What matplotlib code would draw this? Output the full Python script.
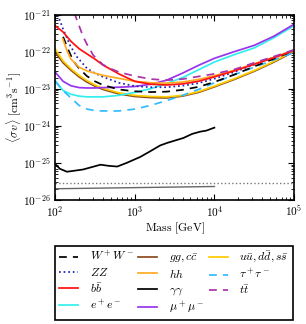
import numpy as np
import matplotlib
matplotlib.use('Agg')
import matplotlib.pyplot as plt
from matplotlib.ticker import FuncFormatter, LogLocator

plt.rcParams['mathtext.fontset'] = 'cm'
plt.rcParams['font.family'] = ['DejaVu Serif']

# masses in GeV, <sigma v> given as log10 of cm^3 s^-1
mass_grid = [100, 126, 158, 200, 251, 316, 398, 631, 1000, 1585, 2512, 3981,
             6310, 10000, 17780, 31620, 56230, 100000]

log_sv_bb = [-21.3, -21.47, -21.72, -21.92, -22.06, -22.2, -22.36, -22.6, -22.8, -22.88,
             -22.9, -22.87, -22.8, -22.68, -22.52, -22.34, -22.16, -21.97]
log_sv_gg = [-22.02, -22.3, -22.5, -22.68, -22.82, -22.93, -23.02, -23.14, -23.21, -23.24,
             -23.25, -23.2, -23.1, -22.95, -22.75, -22.53, -22.28, -22.0]
log_sv_uu = [-21.92, -22.25, -22.46, -22.64, -22.78, -22.9, -22.99, -23.11, -23.18, -23.21,
             -23.22, -23.18, -23.08, -22.93, -22.73, -22.51, -22.26, -21.98]
log_sv_ee = [-22.78, -23.05, -23.15, -23.2, -23.22, -23.22, -23.22, -23.18, -23.1, -23.0,
             -22.86, -22.7, -22.49, -22.28, -22.08, -21.9, -21.62, -21.3]
log_sv_mumu = [-22.55, -22.8, -22.92, -22.97, -22.98, -22.98, -22.97, -22.96, -22.94, -22.88,
               -22.77, -22.58, -22.37, -22.18, -22.0, -21.83, -21.58, -21.26]
log_sv_tautau = [-22.8, -23.05, -23.25, -23.45, -23.55, -23.59, -23.6, -23.6, -23.55, -23.45,
                 -23.32, -23.18, -23.02, -22.84, -22.62, -22.42, -22.22, -22.02]

mass_hh = [125, 141, 158, 200, 251, 316, 398, 631, 1000, 1585, 2512, 3981,
           6310, 10000, 17780, 31620, 56230, 100000]
log_sv_hh = [-21.66, -21.97, -22.2, -22.42, -22.52, -22.58, -22.64, -22.72, -22.8, -22.84,
             -22.85, -22.82, -22.75, -22.65, -22.5, -22.33, -22.15, -21.96]

mass_ww = [126, 148, 170, 200, 251, 316, 398, 631, 1000, 1585, 2512, 3981,
           6310, 10000, 17780, 31620, 56230, 100000]
log_sv_ww = [-21.6, -21.97, -22.26, -22.45, -22.66, -22.8, -22.9, -23.02, -23.07, -23.09,
             -23.08, -23.03, -22.95, -22.82, -22.62, -22.4, -22.19, -21.97]

mass_zz = [100, 110, 126, 155, 186, 251, 316, 398, 631, 1000, 1585, 2512, 3981,
           6310, 10000, 17780, 31620, 56230, 100000]
log_sv_zz = [-20.9, -21.05, -21.39, -21.84, -22.13, -22.45, -22.58, -22.68, -22.84, -22.93,
             -22.96, -22.96, -22.92, -22.85, -22.73, -22.55, -22.35, -22.15, -21.96]

mass_tt = [174, 200, 224, 251, 302, 398, 501, 631, 1000, 1585, 2512, 3981,
           6310, 10000, 17780, 31620, 56230, 100000]
log_sv_tt = [-20.95, -21.3, -21.58, -21.8, -22.1, -22.35, -22.46, -22.55, -22.66, -22.74,
             -22.77, -22.74, -22.67, -22.6, -22.48, -22.3, -22.13, -21.95]

mass_aa = [100, 115, 141, 224, 372, 468, 603, 794, 1175, 1585, 2089, 2570, 4074,
           5248, 6607, 7943, 10000]
log_sv_aa = [-25.03, -25.16, -25.24, -25.18, -25.05, -25.08, -25.1, -25.0, -24.84, -24.68,
             -24.53, -24.46, -24.33, -24.22, -24.16, -24.13, -24.05]

mass_relic = [100, 10000]
sv_relic = [2.0e-26, 2.3e-26]
sv_dotted = 2.8e-26

fig = plt.figure(figsize=(3.06, 3.24), dpi=100)
ax = fig.add_axes([0.18, 0.383, 0.781, 0.572])

lw = 1.25
dash = (0, (4.5, 3.5))
ax.plot(mass_grid, np.power(10.0, log_sv_gg), color='#8b4a1c', lw=lw, label=r'$gg, c\bar{c}$')
ax.plot(mass_grid, np.power(10.0, log_sv_uu), color='#ffcc00', lw=lw, label=r'$u\bar{u}, d\bar{d}, s\bar{s}$')
ax.plot(mass_grid, np.power(10.0, log_sv_ee), color='#33eeee', lw=lw, label=r'$e^+e^-$')
ax.plot(mass_grid, np.power(10.0, log_sv_tautau), color='#33bbff', lw=lw, ls=dash, label=r'$\tau^+\tau^-$')
ax.plot(mass_grid, np.power(10.0, log_sv_mumu), color='#9933ee', lw=lw, label=r'$\mu^+\mu^-$')
ax.plot(mass_ww, np.power(10.0, log_sv_ww), color='black', lw=lw, ls=dash, label=r'$W^+W^-$')
ax.plot(mass_zz, np.power(10.0, log_sv_zz), color='#2222bb', lw=lw, ls=':', label=r'$ZZ$')
ax.plot(mass_hh, np.power(10.0, log_sv_hh), color='#ffaa22', lw=lw, label=r'$hh$')
ax.plot(mass_grid, np.power(10.0, log_sv_bb), color='#ff1111', lw=lw, label=r'$b\bar{b}$')
ax.plot(mass_tt, np.power(10.0, log_sv_tt), color='#aa33aa', lw=lw, ls=dash, label=r'$t\bar{t}$')
ax.plot(mass_aa, np.power(10.0, log_sv_aa), color='black', lw=lw, label=r'$\gamma\gamma$')
ax.plot(mass_relic, sv_relic, color='#666666', lw=1.0)
ax.axhline(sv_dotted, color='#777777', lw=1.0, ls=':')

ax.set_xscale('log')
ax.set_yscale('log')
ax.set_xlim(1e2, 1e5)
ax.set_ylim(1e-26, 1e-21)

fmt = FuncFormatter(lambda v, p: r'$10^{%d}$' % round(np.log10(v)))
ax.xaxis.set_major_formatter(fmt)
ax.yaxis.set_major_formatter(fmt)
ax.xaxis.set_minor_locator(LogLocator(base=10, subs=np.arange(2, 10), numticks=20))
ax.yaxis.set_minor_locator(LogLocator(base=10, subs=np.arange(2, 10), numticks=20))
ax.tick_params(which='both', direction='in', top=True, right=True, labelsize=8.2)
ax.tick_params(which='major', length=4, width=0.8, pad=3)
ax.tick_params(which='minor', length=2, width=0.6)
for s in ax.spines.values():
    s.set_linewidth(1.2)

ax.set_xlabel(r'$\mathrm{Mass\ [GeV]}$', fontsize=8.5, labelpad=1)
ax.set_ylabel(r'$\langle\sigma v\rangle\ [\mathrm{cm}^3\mathrm{s}^{-1}]$', fontsize=8.5, labelpad=0)

order = [r'$W^+W^-$', r'$ZZ$', r'$b\bar{b}$', r'$e^+e^-$', r'$gg, c\bar{c}$', r'$hh$',
         r'$\gamma\gamma$', r'$\mu^+\mu^-$', r'$u\bar{u}, d\bar{d}, s\bar{s}$',
         r'$\tau^+\tau^-$', r'$t\bar{t}$']
handles, labels = ax.get_legend_handles_labels()
lookup = dict(zip(labels, handles))
leg = fig.legend([lookup[l] for l in order], order, loc='lower left',
                 bbox_to_anchor=(0.18, 0.012, 0.778, 0.238), mode='expand', ncol=3,
                 borderaxespad=0, fontsize=8.5, handlelength=1.6, handletextpad=1.0,
                 labelspacing=0.2, columnspacing=0.5, borderpad=0.35,
                 fancybox=False, framealpha=1)
leg.get_frame().set_edgecolor('black')
leg.get_frame().set_linewidth(1.2)

fig.savefig('out.png', dpi=100)
